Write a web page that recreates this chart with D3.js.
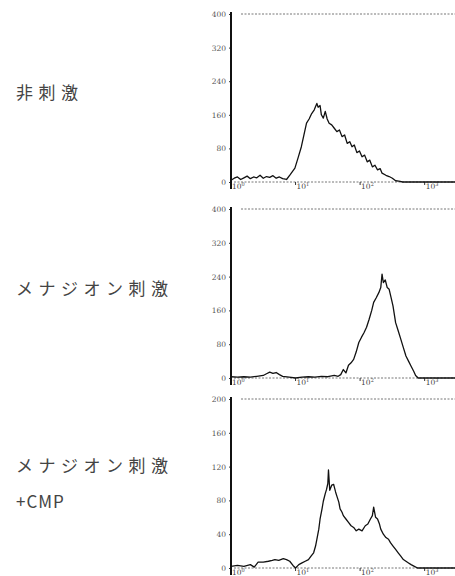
<!DOCTYPE html>
<html>
<head>
<meta charset="utf-8">
<script src="https://cdn.jsdelivr.net/npm/d3@7"></script>
<style>
  body { margin: 0; background: #fff; }
  svg { display: block; }
</style>
</head>
<body>
<svg id="chart" width="455" height="576"></svg>
<script>
// Panel labels (left side)
var labels1 = ['非刺激'];
var labels2 = ['メナジオン刺激'];
var labels3 = ['メナジオン刺激', '+CMP'];

// x: fluorescence in log decades, y: cell count
var decades = [0, 1, 2, 3];

var yTicks1 = [0, 80, 160, 240, 320, 400];
var yTicks2 = [0, 80, 160, 240, 320, 400];
var yTicks3 = [0, 40, 80, 120, 160, 200];

var logs1 = [0.0, 0.05, 0.1, 0.15, 0.2, 0.25, 0.3, 0.35, 0.4, 0.45, 0.5, 0.55, 0.6, 0.65, 0.7, 0.75, 0.8, 0.86,
  0.92, 0.99, 1.04, 1.09, 1.13, 1.17, 1.21, 1.25, 1.29, 1.31, 1.33, 1.35, 1.38, 1.4, 1.43, 1.46, 1.49, 1.52,
  1.56, 1.6, 1.64, 1.68, 1.72, 1.76, 1.8, 1.84, 1.875, 1.91, 1.95, 1.99, 2.03, 2.07, 2.11, 2.15, 2.19,
  2.23, 2.27, 2.31, 2.34, 2.4, 2.45, 2.5, 2.55, 2.6, 2.66, 3.47];
var counts1 = [4, 9, 12, 6, 10, 14, 8, 12, 10, 16, 9, 13, 11, 15, 9, 12, 8, 6,
  18, 33, 58, 84, 112, 140, 150, 163, 172, 180, 187, 178, 182, 160, 152, 168, 150, 140,
  136, 128, 120, 124, 108, 112, 92, 96, 84, 88, 70, 74, 60, 64, 48, 52, 36,
  40, 29, 32, 21, 16, 13, 9, 3, 2, 0, 0];

var logs2 = [0.0, 0.1, 0.2, 0.3, 0.4, 0.5, 0.55, 0.6, 0.65, 0.7, 0.75, 0.8, 0.9, 1.0, 1.1, 1.2, 1.3, 1.4,
  1.5, 1.6, 1.66, 1.7, 1.74, 1.78, 1.82, 1.86, 1.9, 1.94, 1.98, 2.02, 2.06, 2.1, 2.14, 2.18, 2.21, 2.25,
  2.29, 2.32, 2.34, 2.36, 2.39, 2.42, 2.45, 2.48, 2.51, 2.55, 2.59, 2.63, 2.67, 2.71, 2.75, 2.79, 2.83,
  2.86, 2.9, 3.47];
var counts2 = [3, 2, 3, 2, 4, 6, 10, 14, 11, 13, 8, 4, 2, 0, 2, 3, 2, 4,
  3, 6, 4, 8, 20, 12, 30, 36, 44, 62, 84, 96, 107, 120, 139, 160, 179, 190,
  202, 214, 246, 226, 232, 214, 210, 190, 170, 131, 112, 92, 72, 52, 40, 28, 16,
  6, 0, 0];

var logs3 = [0.0, 0.1, 0.2, 0.3, 0.36, 0.42, 0.5, 0.58, 0.64, 0.68, 0.74, 0.81, 0.86, 0.91, 0.96, 1.0, 1.05,
  1.1, 1.15, 1.2, 1.24, 1.28, 1.31, 1.33, 1.36, 1.38, 1.41, 1.43, 1.46, 1.48, 1.5, 1.51, 1.53, 1.56, 1.59,
  1.62, 1.64, 1.67, 1.69, 1.72, 1.74, 1.78, 1.82, 1.86, 1.9, 1.94, 1.98, 2.03, 2.08, 2.12, 2.16, 2.19,
  2.21, 2.24, 2.27, 2.3, 2.32, 2.36, 2.4, 2.44, 2.47, 2.51, 2.55, 2.59, 2.63, 2.67, 2.71, 2.75, 2.79,
  2.84, 2.89, 3.47];
var counts3 = [2, 3, 2, 4, 1, 7, 7, 8, 9, 10, 9, 11, 10, 8, 3, 0, 4,
  6, 8, 10, 14, 18, 26, 34, 46, 58, 70, 79, 88, 93, 100, 116, 92, 98, 99,
  90, 85, 78, 70, 66, 62, 58, 54, 50, 48, 44, 46, 44, 50, 52, 58, 62,
  72, 60, 58, 52, 46, 40, 36, 34, 30, 26, 22, 18, 14, 10, 8, 6, 4,
  2, 0, 0];

var panels = [
  { text: labels1, textY: 99, top: 14, base: 182, ticks: yTicks1, logs: logs1, counts: counts1 },
  { text: labels2, textY: 295, top: 209, base: 378, ticks: yTicks2, logs: logs2, counts: counts2 },
  { text: labels3, textY: 472, top: 399, base: 568, ticks: yTicks3, logs: logs3, counts: counts3 }
];

var svg = d3.select('#chart');
var left = 231;
var right = 455;
var x = d3.scaleLinear().domain([0, 3.47]).range([left, right]);

panels.forEach(function (p) {
  var ticks = p.ticks;
  var y = d3.scaleLinear()
            .domain([0, ticks[ticks.length - 1]])
            .range([p.base, p.top]);
  var g = svg.append('g');

  // Label on the left
  var t = g.append('text')
           .attr('x', 16)
           .attr('y', p.textY)
           .attr('font-family', '"Noto Sans CJK JP", sans-serif')
           .attr('font-size', 17)
           .attr('fill', '#444');
  p.text.forEach(function (s, i) {
    t.append('tspan')
     .attr('x', 16)
     .attr('dy', i === 0 ? 0 : 36)
     .attr('letter-spacing', i === 0 ? 5.5 : 1)
     .text(s);
  });

  // Top frame and baseline (dotted)
  [p.top, p.base].forEach(function (yy, i) {
    g.append('line')
     .attr('x1', left + (i === 0 ? 10 : 3))
     .attr('x2', right + 5)
     .attr('y1', yy)
     .attr('y2', yy)
     .attr('stroke', '#777')
     .attr('stroke-width', 1)
     .attr('stroke-dasharray', '2,1.5');
  });

  // Y axis
  var yAxis = d3.axisLeft(y)
                .tickValues(ticks)
                .tickSize(2)
                .tickPadding(3);
  var ya = g.append('g')
            .attr('transform', 'translate(' + left + ',0)')
            .call(yAxis);
  ya.select('.domain').remove();
  ya.selectAll('line').attr('stroke', '#333');
  ya.selectAll('text')
    .attr('font-family', '"DejaVu Serif", serif')
    .attr('font-size', 7.5)
    .attr('fill', '#555');
  g.append('line')
   .attr('x1', left)
   .attr('x2', left)
   .attr('y1', p.top - 2)
   .attr('y2', p.base + 7)
   .attr('stroke', '#111')
   .attr('stroke-width', 2);

  // X tick labels, 10^n
  var xl = g.selectAll('.xl')
            .data(decades)
            .enter()
            .append('text')
            .attr('class', 'xl')
            .attr('x', function (d) { return x(d) + 1; })
            .attr('y', p.base + 7)
            .attr('font-family', '"DejaVu Serif", serif')
            .attr('font-size', 7.5)
            .attr('fill', '#444');
  xl.append('tspan').text('10');
  xl.append('tspan')
    .attr('dy', -3)
    .attr('font-size', 5)
    .text(function (d) { return d; });
  g.selectAll('.xt')
   .data(decades.slice(1))
   .enter()
   .append('line')
   .attr('x1', function (d) { return x(d); })
   .attr('x2', function (d) { return x(d); })
   .attr('y1', p.base)
   .attr('y2', p.base + 3)
   .attr('stroke', '#333');

  // Histogram curve
  var pts = p.logs.map(function (l, i) { return [l, p.counts[i]]; });
  var line = d3.line()
               .x(function (d) { return x(d[0]); })
               .y(function (d) { return y(d[1]); })
               .curve(d3.curveLinear);
  g.append('path')
   .attr('d', line(pts))
   .attr('fill', 'none')
   .attr('stroke', '#111')
   .attr('stroke-width', 1.3)
   .attr('stroke-linejoin', 'round');
});
</script>
</body>
</html>
